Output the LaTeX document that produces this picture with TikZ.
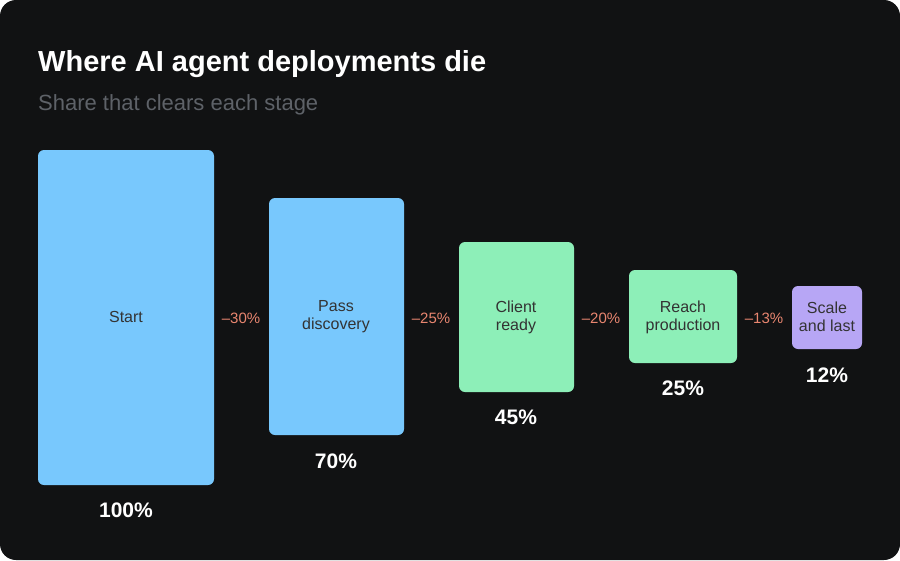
\documentclass[tikz,border=0pt]{standalone}
\usepackage{fontspec}
\setmainfont{Liberation Sans}
\begin{document}
\begin{tikzpicture}[x=1pt,y=-1pt,
  bar/.style={rounded corners=6pt,draw=none},
  lab/.style={text=black!80,font=\fontsize{16}{18}\selectfont,align=center},
  pct/.style={text=white,font=\bfseries\fontsize{21}{24}\selectfont},
  drop/.style={text=dropc,font=\fontsize{15}{18}\selectfont}]
\definecolor{bg}{HTML}{111213}
\definecolor{blu}{HTML}{78C8FD}
\definecolor{grn}{HTML}{8DEFB8}
\definecolor{pur}{HTML}{B7A6F5}
\definecolor{dropc}{HTML}{E98670}
\definecolor{sub}{HTML}{5E6268}
\fill[white] (0,0) rectangle (900,560);
\useasboundingbox (0,0) rectangle (900,560);
\fill[bg,rounded corners=16pt] (0,0) rectangle (900,560);
\node[anchor=base west,text=white,font=\bfseries\fontsize{29}{32}\selectfont,inner sep=0] (title) at (38,71) {Where AI agent deployments die};
\node[anchor=base west,text=sub,font=\fontsize{22}{26}\selectfont,inner sep=0] (subt) at (38,110) {Share that clears each stage};
\fill[blu,bar] (38,150) rectangle (214,485);
\node[lab] (s1) at (126,317) {Start};
\fill[blu,bar] (269,198) rectangle (404,435);
\node[lab] (s2) at (336,317) {Pass\\discovery};
\fill[grn,bar] (459,242) rectangle (574,392);
\node[lab] (s3) at (516,317) {Client\\ready};
\fill[grn,bar] (629,270) rectangle (737,363);
\node[lab] (s4) at (683,317) {Reach\\production};
\fill[pur,bar] (792,286) rectangle (862,349);
\node[lab] (s5) at (827,317) {Scale\\and last};
\node[pct] (p1) at (126,510) {100\%};
\node[pct] (p2) at (336,461) {70\%};
\node[pct] (p3) at (516,417) {45\%};
\node[pct] (p4) at (683,388) {25\%};
\node[pct] (p5) at (827,375) {12\%};
\node[drop] (d1) at (241,318) {\textendash30\%};
\node[drop] (d2) at (431,318) {\textendash25\%};
\node[drop] (d3) at (601,318) {\textendash20\%};
\node[drop] (d4) at (764,318) {\textendash13\%};
\end{tikzpicture}
\end{document}
